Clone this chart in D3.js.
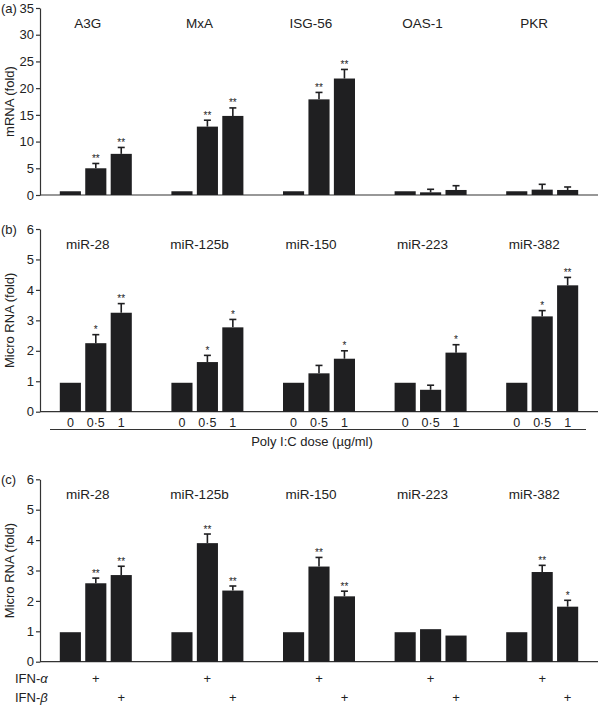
<!DOCTYPE html>
<html>
<head>
<meta charset="utf-8">
<script src="https://cdn.jsdelivr.net/npm/d3@7/dist/d3.min.js"></script>
<style>
  html, body { margin: 0; padding: 0; background: #fff; }
  svg { display: block; font-family: "Liberation Sans", Arial, Helvetica, sans-serif; }
</style>
</head>
<body>
<svg id="chart" width="600" height="705"></svg>
<script>
// ---------- DATA ----------
const genesA = ["A3G", "MxA", "ISG-56", "OAS-1", "PKR"];
const valuesA = [[0.7, 5.0, 7.7], [0.7, 12.8, 14.8], [0.7, 17.9, 21.8], [0.7, 0.5, 0.94], [0.7, 1.0, 0.94]];
const errorsA = [[0, 0.9, 1.2], [0, 1.2, 1.5], [0, 1.3, 1.7], [0, 0.57, 0.8], [0, 1.0, 0.56]];
const starsA = [["", "**", "**"], ["", "**", "**"], ["", "**", "**"], ["", "", ""], ["", "", ""]];
const ticksA = [0, 5, 10, 15, 20, 25, 30, 35];

const mirs = ["miR-28", "miR-125b", "miR-150", "miR-223", "miR-382"];
const valuesB = [[0.95, 2.25, 3.25], [0.95, 1.63, 2.77], [0.95, 1.26, 1.74], [0.95, 0.72, 1.94], [0.95, 3.13, 4.15]];
const errorsB = [[0, 0.28, 0.3], [0, 0.22, 0.26], [0, 0.26, 0.26], [0, 0.15, 0.26], [0, 0.19, 0.26]];
const starsB = [["", "*", "**"], ["", "*", "*"], ["", "", "*"], ["", "", "*"], ["", "*", "**"]];
const doseLabels = ["0", "0·5", "1"];

const valuesC = [[0.97, 2.58, 2.85], [0.97, 3.9, 2.34], [0.97, 3.13, 2.15], [0.97, 1.07, 0.86], [0.97, 2.95, 1.81]];
const errorsC = [[0, 0.17, 0.29], [0, 0.3, 0.15], [0, 0.3, 0.17], [0, 0, 0], [0, 0.22, 0.21]];
const starsC = [["", "**", "**"], ["", "**", "**"], ["", "**", "**"], ["", "", ""], ["", "**", "*"]];
const ticksMicro = [0, 1, 2, 3, 4, 5, 6];
const ifnRows = [{ label: "IFN-", greek: "α", bar: 1 }, { label: "IFN-", greek: "β", bar: 2 }];

// ---------- LAYOUT ----------
const svg = d3.select("#chart");
const X0 = 40, X1 = 598;
const barColor = "#1f1f21";
const axisColor = "#333";

const xGroup = d3.scaleBand().domain(d3.range(5)).range([X0, X1]).padding(0);
const xBar = d3.scaleBand().domain([0, 1, 2]).range([-36, 36]).paddingInner(0.17).paddingOuter(0);

function panel(opts) {
  const { values, errors, stars, labels, yTop, yBottom, max, ticks, title, tag } = opts;
  const y = d3.scaleLinear().domain([0, max]).range([yBottom, yTop]);
  const g = svg.append("g");

  // y axis
  const ax = g.append("g").attr("transform", `translate(${X0},0)`)
    .call(d3.axisLeft(y).tickValues(ticks).tickSize(4).tickSizeOuter(0).tickPadding(2).tickFormat(d3.format("d")));
  ax.select(".domain").attr("stroke", axisColor).attr("stroke-width", 1.2);
  ax.selectAll(".tick line").attr("stroke", axisColor).attr("stroke-width", 1.2);
  ax.selectAll(".tick text").attr("fill", "#222").style("font-size", "13px")
    .style("font-family", "'Liberation Sans', Arial, sans-serif");

  // x baseline
  g.append("line").attr("x1", X0).attr("x2", X1).attr("y1", y(0)).attr("y2", y(0))
    .attr("stroke", axisColor).attr("stroke-width", 1.2);

  // axis title
  g.append("text")
    .attr("transform", `translate(14,${(yTop + yBottom) / 2}) rotate(-90)`)
    .attr("text-anchor", "middle").attr("fill", "#222").style("font-size", "13px").text(title);

  // panel tag
  g.append("text").attr("x", 1).attr("y", yTop + 5).attr("fill", "#222")
    .style("font-size", "13px").text(tag);

  // groups
  values.forEach((vals, gi) => {
    const cx = xGroup(gi) + xGroup.bandwidth() / 2;
    const gg = g.append("g").attr("transform", `translate(${cx},0)`);
    gg.append("text").attr("x", -8).attr("y", yTop + 20).attr("text-anchor", "middle")
      .attr("fill", "#222").style("font-size", "13.5px").text(labels[gi]);

    vals.forEach((v, bi) => {
      const bx = xBar(bi), bw = xBar.bandwidth();
      gg.append("rect").attr("x", bx).attr("y", y(v)).attr("width", bw)
        .attr("height", y(0) - y(v)).attr("fill", barColor);
      const e = errors[gi][bi];
      const mx = bx + bw / 2;
      let top = y(v);
      if (e > 0) {
        top = y(v + e);
        gg.append("line").attr("x1", mx).attr("x2", mx).attr("y1", y(v)).attr("y2", top)
          .attr("stroke", barColor).attr("stroke-width", 1.6);
        gg.append("line").attr("x1", mx - 3.5).attr("x2", mx + 3.5).attr("y1", top).attr("y2", top)
          .attr("stroke", barColor).attr("stroke-width", 1.6);
      }
      const s = stars[gi][bi];
      if (s) {
        gg.append("text").attr("x", mx).attr("y", top - 1.5).attr("text-anchor", "middle")
          .attr("fill", "#222").style("font-size", "10px").text(s);
      }
    });
  });
  return { g, y };
}

// Panel (a)
panel({ values: valuesA, errors: errorsA, stars: starsA, labels: genesA,
  yTop: 8, yBottom: 195, max: 35, ticks: ticksA, title: "mRNA (fold)", tag: "(a)" });

// Panel (b)
const pb = panel({ values: valuesB, errors: errorsB, stars: starsB, labels: mirs,
  yTop: 229, yBottom: 411.7, max: 6, ticks: ticksMicro, title: "Micro RNA (fold)", tag: "(b)" });
mirs.forEach((m, gi) => {
  const cx = xGroup(gi) + xGroup.bandwidth() / 2;
  doseLabels.forEach((d, bi) => {
    pb.g.append("text").attr("x", cx + xBar(bi) + xBar.bandwidth() / 2).attr("y", 426.5)
      .attr("text-anchor", "middle").attr("fill", "#222").style("font-size", "12.5px").text(d);
  });
});
pb.g.append("line").attr("x1", 50).attr("x2", 586).attr("y1", 429.5).attr("y2", 429.5)
  .attr("stroke", axisColor).attr("stroke-width", 1.2);
pb.g.append("text").attr("x", 312).attr("y", 446).attr("text-anchor", "middle")
  .attr("fill", "#222").style("font-size", "13px").text("Poly I:C dose (µg/ml)");

// Panel (c)
const pc = panel({ values: valuesC, errors: errorsC, stars: starsC, labels: mirs,
  yTop: 479.3, yBottom: 661.7, max: 6, ticks: ticksMicro, title: "Micro RNA (fold)", tag: "(c)" });
ifnRows.forEach((r, ri) => {
  const yy = 683 + ri * 19;
  const t = pc.g.append("text").attr("x", 15).attr("y", yy).attr("fill", "#222").style("font-size", "13px");
  t.append("tspan").text(r.label);
  t.append("tspan").style("font-style", "italic").text(r.greek);
  mirs.forEach((m, gi) => {
    const cx = xGroup(gi) + xGroup.bandwidth() / 2;
    pc.g.append("text").attr("x", cx + xBar(r.bar) + xBar.bandwidth() / 2).attr("y", yy)
      .attr("text-anchor", "middle").attr("fill", "#222").style("font-size", "13px").text("+");
  });
});
</script>
</body>
</html>
